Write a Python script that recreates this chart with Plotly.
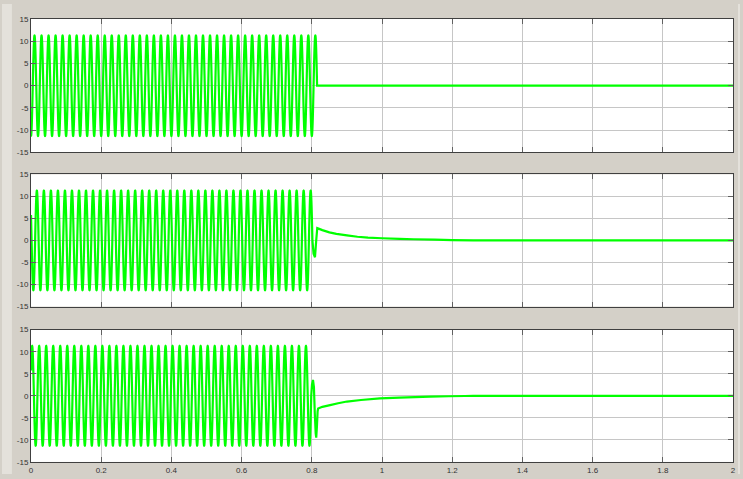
import numpy as np
import plotly.graph_objects as go

# ---- values ----
X_TICKS = [0, 0.2, 0.4, 0.6, 0.8, 1.0, 1.2, 1.4, 1.6, 1.8, 2.0]
X_TICK_LABELS = ["0", "0.2", "0.4", "0.6", "0.8", "1", "1.2", "1.4", "1.6", "1.8", "2"]
Y_TICKS = [-15, -10, -5, 0, 5, 10, 15]
Y_TICK_LABELS = ["-15", "-10", "-5", "0", "5", "10", "15"]

FREQ_HZ = 50.0                       # 10 cycles per 0.2 s division
AMPLITUDE = [11.3, 11.3, 11.3]       # peak value of each trace
FIRST_PEAK_S = [0.0100, 0.0167, 0.0033]
SINE_END_S = [0.8150, 0.8017, 0.7983]

# read-off points after the steady oscillation ends
TAIL_T_1 = [0.8150, 2.0]
TAIL_V_1 = [0.0, 0.0]

TAIL_T_2 = [0.805, 0.809, 0.8125, 0.8155, 0.83, 0.85, 0.87, 0.90, 0.93, 0.96,
            1.00, 1.05, 1.09, 1.15, 1.20, 1.26, 2.0]
TAIL_V_2 = [-3.0, -3.8, 0.0, 2.8, 2.35, 1.85, 1.5, 1.15, 0.85, 0.65,
            0.5, 0.37, 0.28, 0.17, 0.08, 0.0, 0.0]

TAIL_T_3 = [0.8005, 0.8033, 0.806, 0.8085, 0.811, 0.8125, 0.8145, 0.8165, 0.818,
            0.83, 0.852, 0.875, 0.90, 0.94, 0.994, 1.05, 1.137, 1.19, 1.236, 1.26, 2.0]
TAIL_V_3 = [2.5, 3.6, 2.0, -4.0, -8.5, -9.5, -7.0, -3.5, -2.9,
            -2.5, -2.1, -1.7, -1.3, -0.95, -0.6, -0.4, -0.2, -0.1, -0.05, 0.0, 0.0]

TAILS_T = [TAIL_T_1, TAIL_T_2, TAIL_T_3]
TAILS_V = [TAIL_V_1, TAIL_V_2, TAIL_V_3]

STEP_S = 0.0001

W, H = 743, 479
# plot-area edges in figure pixels
PLOT_X = (29.2, 736.0)
PLOT_Y = [(15.3, 151.2), (173.6, 308.4), (331.9, 466.7)]

BG = "#d4d0c8"
LIGHT = "#e4e1db"
GREEN = "#00ff00"


def signal(k):
    t = np.arange(0.0, SINE_END_S[k], STEP_S)
    t = np.append(t, SINE_END_S[k])
    v = AMPLITUDE[k] * np.cos(2 * np.pi * FREQ_HZ * (t - FIRST_PEAK_S[k]))
    return np.concatenate([t, TAILS_T[k]]), np.concatenate([v, TAILS_V[k]])


fig = go.Figure()
for k in range(3):
    t, v = signal(k)
    suffix = "" if k == 0 else str(k + 1)
    fig.add_trace(go.Scatter(
        x=t, y=v, mode="lines",
        line=dict(color=GREEN, width=2.2, simplify=False),
        xaxis="x" + suffix, yaxis="y" + suffix, showlegend=False,
        hoverinfo="skip",
    ))

axis_font = dict(family="Liberation Sans, Arial, sans-serif", size=8, color="#333333")
common = dict(
    showline=True, linecolor="#404040", linewidth=1, mirror="ticks",
    showgrid=True, gridcolor="#c6c6c6", gridwidth=1,
    zeroline=False, ticks="inside", ticklen=5, tickcolor="#606060", tickwidth=1,
    tickfont=axis_font, fixedrange=True,
)

layout = dict(
    width=W, height=H, autosize=False,
    margin=dict(l=0, r=0, t=0, b=0),
    paper_bgcolor=BG, plot_bgcolor="white",
    showlegend=False,
)
for k in range(3):
    suffix = "" if k == 0 else str(k + 1)
    y0, y1 = PLOT_Y[k]
    layout["xaxis" + suffix] = dict(
        common,
        domain=[PLOT_X[0] / W, PLOT_X[1] / W],
        range=[0, 2], tickvals=X_TICKS, ticktext=X_TICK_LABELS,
        showticklabels=(k == 2),
        anchor="y" + suffix,
    )
    layout["yaxis" + suffix] = dict(
        common,
        domain=[1 - y1 / H, 1 - y0 / H],
        range=[-15, 15], tickvals=Y_TICKS, ticktext=Y_TICK_LABELS,
        anchor="x" + suffix,
    )

layout["shapes"] = [
    dict(type="rect", xref="paper", yref="paper", x0=0, x1=10 / W, y0=0, y1=1,
         fillcolor=LIGHT, line=dict(width=0), layer="below"),
    dict(type="rect", xref="paper", yref="paper", x0=741 / W, x1=1, y0=0, y1=1,
         fillcolor=LIGHT, line=dict(width=0), layer="below"),
]

fig.update_layout(**layout)

PAGE_FIX = (
    "var s=document.createElement('style');"
    "s.textContent='html,body{margin:0;padding:0;overflow:hidden;background:#d4d0c8;}';"
    "document.head.appendChild(s);"
)
fig.write_html("out.html", config={"displayModeBar": False}, post_script=PAGE_FIX)
